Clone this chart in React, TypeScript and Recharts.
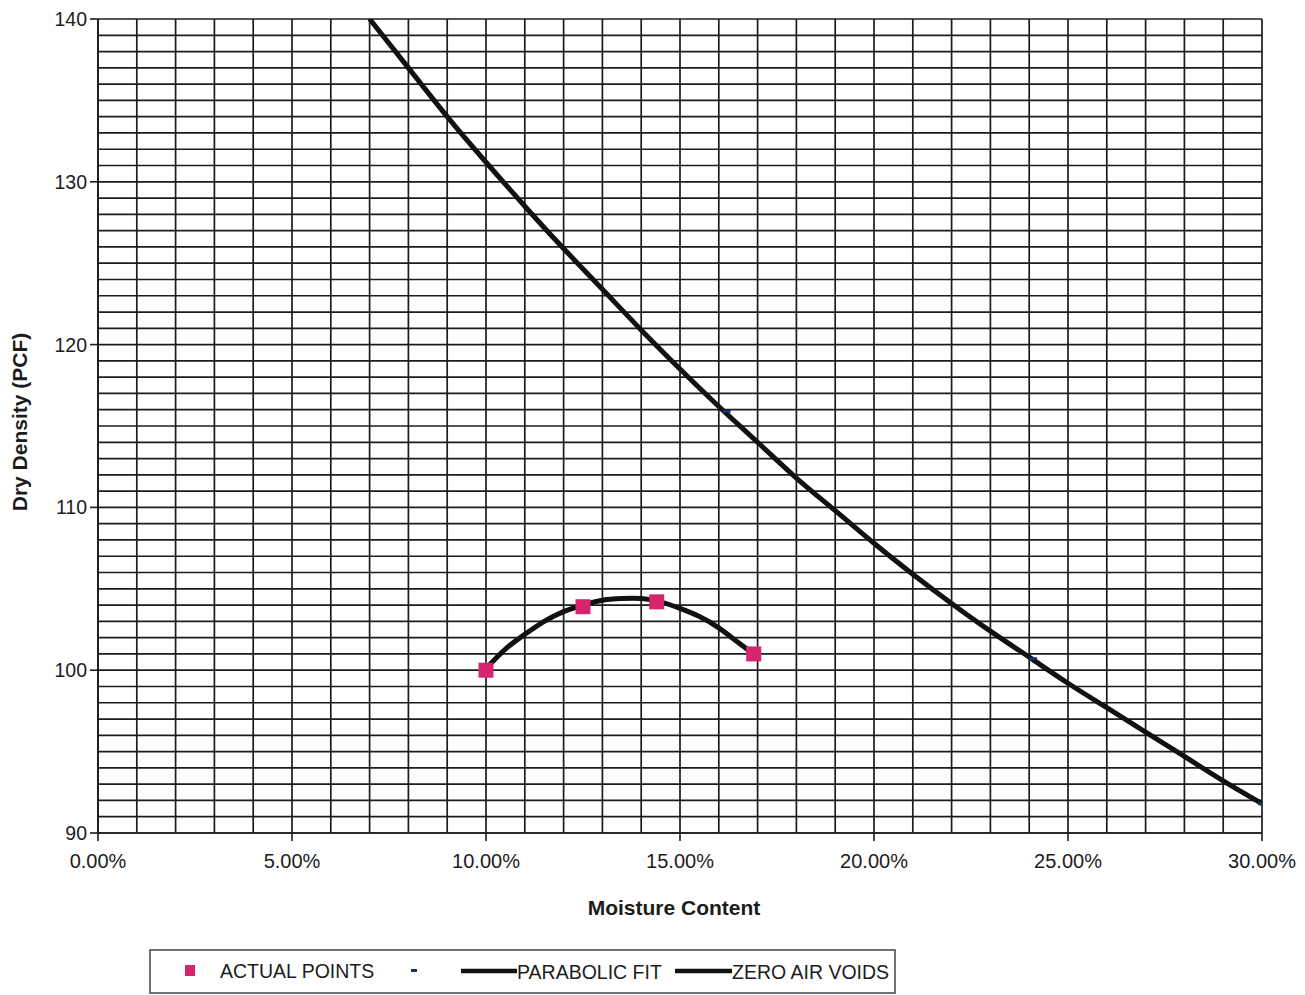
import React from 'react';
import { ComposedChart, XAxis, YAxis, CartesianGrid, Line, Scatter, Label } from 'recharts';

const actualPoints = [
  { x: 10.0, y: 100.0 },
  { x: 12.5, y: 103.9 },
  { x: 14.4, y: 104.2 },
  { x: 16.9, y: 101.0 },
];

const zavMarkers = [
  { x: 16.2, y: 115.9 },
  { x: 24.1, y: 100.7 },
  { x: 30.0, y: 91.8 },
];

const parabolicFit = [
  { x: 10.0, y: 100.1 },
  { x: 10.5, y: 101.3 },
  { x: 11.0, y: 102.2 },
  { x: 11.5, y: 103.0 },
  { x: 12.0, y: 103.6 },
  { x: 12.5, y: 104.0 },
  { x: 13.0, y: 104.3 },
  { x: 13.5, y: 104.4 },
  { x: 14.0, y: 104.4 },
  { x: 14.5, y: 104.2 },
  { x: 15.0, y: 103.8 },
  { x: 15.5, y: 103.3 },
  { x: 16.0, y: 102.6 },
  { x: 16.5, y: 101.7 },
  { x: 16.9, y: 101.0 },
];

const zeroAirVoids = [
  { x: 7.0, y: 140.0 },
  { x: 8.0, y: 137.0 },
  { x: 9.0, y: 134.0 },
  { x: 10.0, y: 131.2 },
  { x: 11.0, y: 128.5 },
  { x: 12.0, y: 125.9 },
  { x: 13.0, y: 123.4 },
  { x: 14.0, y: 120.9 },
  { x: 15.0, y: 118.5 },
  { x: 16.0, y: 116.2 },
  { x: 17.0, y: 114.0 },
  { x: 18.0, y: 111.8 },
  { x: 19.0, y: 109.8 },
  { x: 20.0, y: 107.8 },
  { x: 21.0, y: 105.9 },
  { x: 22.0, y: 104.1 },
  { x: 23.0, y: 102.4 },
  { x: 24.0, y: 100.8 },
  { x: 25.0, y: 99.2 },
  { x: 26.0, y: 97.7 },
  { x: 27.0, y: 96.2 },
  { x: 28.0, y: 94.7 },
  { x: 29.0, y: 93.2 },
  { x: 30.0, y: 91.8 },
];

const xLabelTicks = [0, 5, 10, 15, 20, 25, 30];
const yLabelTicks = [90, 100, 110, 120, 130, 140];
const xGridTicks = Array.from({ length: 31 }, (_, i) => i);
const yGridTicks = Array.from({ length: 51 }, (_, i) => 90 + i);

const FONT = "Arial, 'Liberation Sans', sans-serif";
const INK = '#1c1c1c';

const XTick = (props: any) => {
  const { x, y, payload } = props;
  const v = payload.value;
  if (!xLabelTicks.includes(v)) return <g />;
  return (
    <g>
      <line x1={x} y1={y} x2={x} y2={y + 8} stroke={INK} strokeWidth={1.6} />
      <text x={x} y={y + 35} textAnchor="middle" fontSize={20} fontFamily={FONT} fill={INK}>
        {v.toFixed(2) + '%'}
      </text>
    </g>
  );
};

const YTick = (props: any) => {
  const { x, y, payload } = props;
  const v = payload.value;
  if (!yLabelTicks.includes(v)) return <g />;
  return (
    <g>
      <line x1={x - 8} y1={y} x2={x} y2={y} stroke={INK} strokeWidth={1.6} />
      <text x={x - 11} y={y + 7} textAnchor="end" fontSize={19.5} fontFamily={FONT} fill={INK}>
        {v}
      </text>
    </g>
  );
};

const SquareShape = (props: any) => {
  const { cx, cy } = props;
  return <rect x={cx - 7.5} y={cy - 7.5} width={15} height={15} fill="#d6246e" />;
};

const DashShape = (props: any) => {
  const { cx, cy } = props;
  return <rect x={cx - 4} y={cy - 1.5} width={8} height={3} fill="#1c2d6b" />;
};

const LegendBox = () => (
  <svg
    width={760}
    height={50}
    style={{ position: 'absolute', left: 145, top: 946 }}
  >
    <rect x={5} y={4} width={745} height={43} fill="#fff" stroke="#444" strokeWidth={1.5} />
    <rect x={40} y={19} width={10} height={11} fill="#d6246e" />
    <text x={75} y={32} fontSize={19.5} fontFamily={FONT} fill={INK}>ACTUAL POINTS</text>
    <rect x={266} y={23} width={6} height={3} fill="#1c2d6b" />
    <line x1={316} y1={25} x2={372} y2={25} stroke="#111" strokeWidth={4.5} />
    <text x={372} y={33} fontSize={19.5} fontFamily={FONT} fill={INK}>PARABOLIC FIT</text>
    <line x1={530} y1={25} x2={587} y2={25} stroke="#111" strokeWidth={4.5} />
    <text x={587} y={33} fontSize={19.5} fontFamily={FONT} fill={INK}>ZERO AIR VOIDS</text>
  </svg>
);

export default function App() {
  return (
    <div style={{ position: 'absolute', left: 0, top: 0, width: 1305, height: 995, background: '#fff' }}>
      <ComposedChart
        width={1305}
        height={995}
        margin={{ top: 19, right: 43, bottom: 78, left: 0 }}
      >
        <CartesianGrid
          stroke={INK}
          strokeWidth={1.7}
          horizontal
          vertical
          fill="#fff"
        />
        <XAxis
          type="number"
          dataKey="x"
          domain={[0, 30]}
          ticks={xGridTicks}
          interval={0}
          allowDataOverflow
          tickLine={false}
          tickSize={0}
          tickMargin={0}
          tick={<XTick />}
          axisLine={{ stroke: INK, strokeWidth: 1.7 }}
          height={84}
        >
          <Label
            content={(p: any) => {
              const vb = p.viewBox;
              return (
                <text
                  x={674}
                  y={vb.y + 82}
                  textAnchor="middle"
                  fontSize={21}
                  fontWeight={700}
                  fontFamily={FONT}
                  fill={INK}
                >
                  Moisture Content
                </text>
              );
            }}
          />
        </XAxis>
        <YAxis
          type="number"
          dataKey="y"
          domain={[90, 140]}
          ticks={yGridTicks}
          interval={0}
          allowDataOverflow
          tickLine={false}
          tickSize={0}
          tickMargin={0}
          tick={<YTick />}
          axisLine={{ stroke: INK, strokeWidth: 1.7 }}
          width={98}
        >
          <Label
            content={(p: any) => {
              const vb = p.viewBox;
              const cx = 27;
              const cy = vb.y + vb.height / 2 - 4;
              return (
                <text
                  x={cx}
                  y={cy}
                  transform={`rotate(-90 ${cx} ${cy})`}
                  textAnchor="middle"
                  fontSize={21}
                  fontWeight={700}
                  fontFamily={FONT}
                  fill={INK}
                >
                  Dry Density (PCF)
                </text>
              );
            }}
          />
        </YAxis>
        <Line
          data={zeroAirVoids}
          dataKey="y"
          type="natural"
          stroke="#111"
          strokeWidth={5}
          dot={false}
          isAnimationActive={false}
          name="ZERO AIR VOIDS"
        />
        <Line
          data={parabolicFit}
          dataKey="y"
          type="natural"
          stroke="#111"
          strokeWidth={5}
          dot={false}
          isAnimationActive={false}
          name="PARABOLIC FIT"
        />
        <Scatter
          data={zavMarkers}
          dataKey="y"
          shape={<DashShape />}
          isAnimationActive={false}
          name="-"
        />
        <Scatter
          data={actualPoints}
          dataKey="y"
          shape={<SquareShape />}
          isAnimationActive={false}
          name="ACTUAL POINTS"
        />
      </ComposedChart>
      <LegendBox />
    </div>
  );
}
